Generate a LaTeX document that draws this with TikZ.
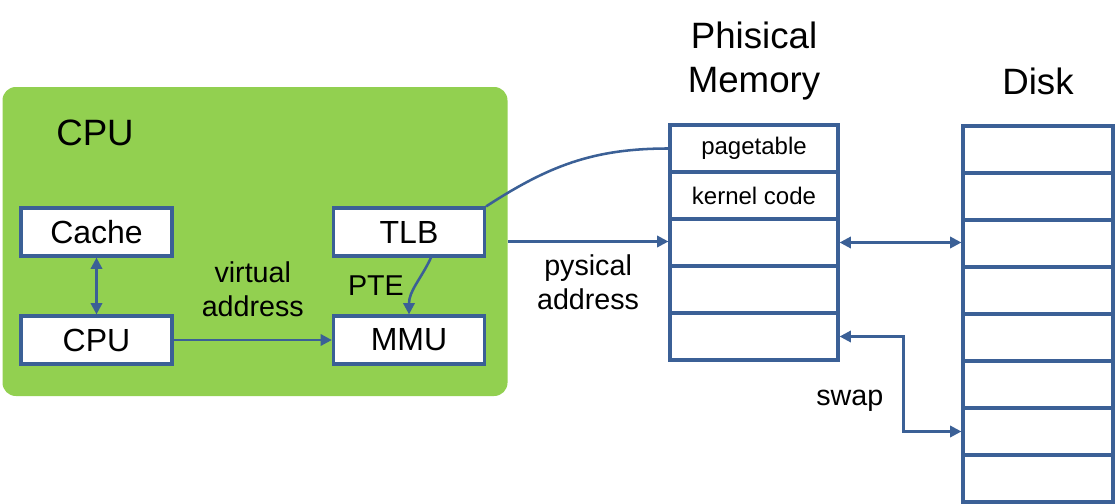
\documentclass[tikz,border=0pt]{standalone}
\usepackage{fontspec}
\setmainfont{Liberation Sans}
\usetikzlibrary{shapes,arrows.meta,positioning}
\definecolor{lineblue}{RGB}{59,96,150}
\definecolor{cpugreen}{RGB}{146,208,80}
\tikzstyle{cpuarea}=[rectangle, rounded corners=10pt, fill=cpugreen, minimum width=378.75pt, minimum height=231.75pt]
\tikzstyle{whiteblock}=[rectangle, draw=lineblue, fill=white, line width=2.4pt, inner sep=0pt, minimum width=113.25pt, minimum height=36pt, font=\fontsize{24}{28}\selectfont]
\tikzstyle{memcell}=[rectangle, draw=lineblue, fill=white, line width=2.4pt, inner sep=0pt, minimum width=126pt, minimum height=35.25pt, font=\fontsize{18}{21}\selectfont]
\tikzstyle{diskcell}=[memcell, minimum width=112.5pt]
\tikzstyle{flow}=[draw=lineblue, line width=1.9pt]
\tikzstyle{note}=[align=center, font=\fontsize{21.5}{25.5}\selectfont]
\tikzstyle{heading}=[align=center, font=\fontsize{27.5}{33}\selectfont]

\begin{document}
\begin{tikzpicture}[x=0.75pt, y=-0.75pt, >={Triangle[length=8.5pt,width=8.5pt]}]
\useasboundingbox (0,0) rectangle (1116,503);

\node[cpuarea] (cpuarea) at (255,241.5) {};
\node[heading] (cputitle) at (95,133) {CPU};

\node[whiteblock] (cache) at (96.5,232) {Cache};
\node[whiteblock] (cpu) at (96.5,340) {CPU};
\node[whiteblock] (tlb) at (409,232) {TLB};
\node[whiteblock] (mmu) at (409,340) {MMU};

\node[heading] (memtitle) at (754,61) {Phisical\\Memory};
\node[heading] (disktitle) at (1038,81) {Disk};

% physical memory
\node[memcell] (m1) at (754,148.5) {pagetable};
\node[memcell] (m2) at (754,195.5) {kernel code};
\foreach \i/\y in {3/242.5,4/289.5,5/336.5}
  \node[memcell] (m\i) at (754,\y) {};

% disk
\foreach \i in {1,...,8}
  \node[diskcell] (d\i) at (1038,{149.5+47*(\i-1)}) {};

\draw[flow,<->] (cache.south) -- (cpu.north);
\draw[flow,->] (cpu.east) -- node[note,above=13pt] {virtual\\address} (mmu.west);
\draw[flow,->] ([xshift=16.5pt]tlb.south) to[out=-115,in=90] node[note,left=5pt] {PTE} (mmu.north);
\draw[flow] (tlb.north east) to[out=33,in=180] (m1.west);
\draw[flow,->] (cpuarea.east) -- node[note,below=6pt] {pysical\\address} (cpuarea.east -| m3.west);
\draw[flow,<->] (m3.east) -- (m3.east -| d3.west);
\draw[flow,<->] (m5.east) -- ++(64,0) |- node[note,pos=0.34,left=11pt] {swap} (d7.west);

\end{tikzpicture}
\end{document}
